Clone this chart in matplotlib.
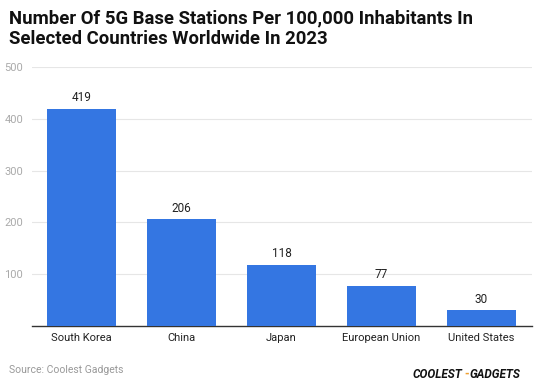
import matplotlib.pyplot as plt

# chart data
countries = ["South Korea", "China", "Japan", "European Union", "United States"]
stations = [419, 206, 118, 77, 30]
y_ticks = [100, 200, 300, 400, 500]

plt.rcParams['font.family'] = ['Roboto', 'DejaVu Sans']

fig = plt.figure(figsize=(5.39, 3.84), dpi=100)
ax = fig.add_axes([31.5 / 539, 1 - 326 / 384, 500 / 539, 259 / 384])

bars = ax.bar(range(len(countries)), stations, width=0.69, color='#3476e2', zorder=3)

for i, v in enumerate(stations):
    ax.text(i, v + 9, str(v), ha='center', va='bottom', fontsize=8.5, color='#222222')

ax.set_xlim(-0.5, len(countries) - 0.5)
ax.set_ylim(0, 500)
ax.set_yticks(y_ticks)
ax.set_yticklabels([str(t) for t in y_ticks])
ax.set_xticks(range(len(countries)))
ax.set_xticklabels(countries)
ax.tick_params(axis='y', length=0, labelsize=8, labelcolor='#aaaaaa', pad=6)
ax.tick_params(axis='x', length=0, labelsize=8, labelcolor='#222222', pad=5)
ax.grid(axis='y', color='#e6e6e6', linewidth=0.8, zorder=0)

for s in ['top', 'right', 'left']:
    ax.spines[s].set_visible(False)
ax.spines['bottom'].set_color('#333333')
ax.spines['bottom'].set_linewidth(1)

# title
fig.text(9 / 539, 1 - 9 / 384,
         "Number Of 5G Base Stations Per 100,000 Inhabitants In\nSelected Countries Worldwide In 2023",
         ha='left', va='top', fontsize=13.3, fontweight='bold', color='#111111', linespacing=1.2)

# footer
fig.text(9 / 539, 1 - 370 / 384, "Source: Coolest Gadgets", ha='left', va='center',
         fontsize=7.5, color='#999999')
fig.text(462 / 539, 1 - 374 / 384, "COOLEST", ha='right', va='center', fontsize=8.5,
         fontweight='bold', fontstyle='italic', color='#111111')
fig.text(464 / 539, 1 - 374 / 384, "-", ha='left', va='center', fontsize=8.5,
         fontweight='bold', color='#f0a030')
fig.text(470 / 539, 1 - 374 / 384, "GADGETS", ha='left', va='center', fontsize=8.5,
         fontweight='bold', fontstyle='italic', color='#111111')

fig.savefig('out.png', dpi=100)
